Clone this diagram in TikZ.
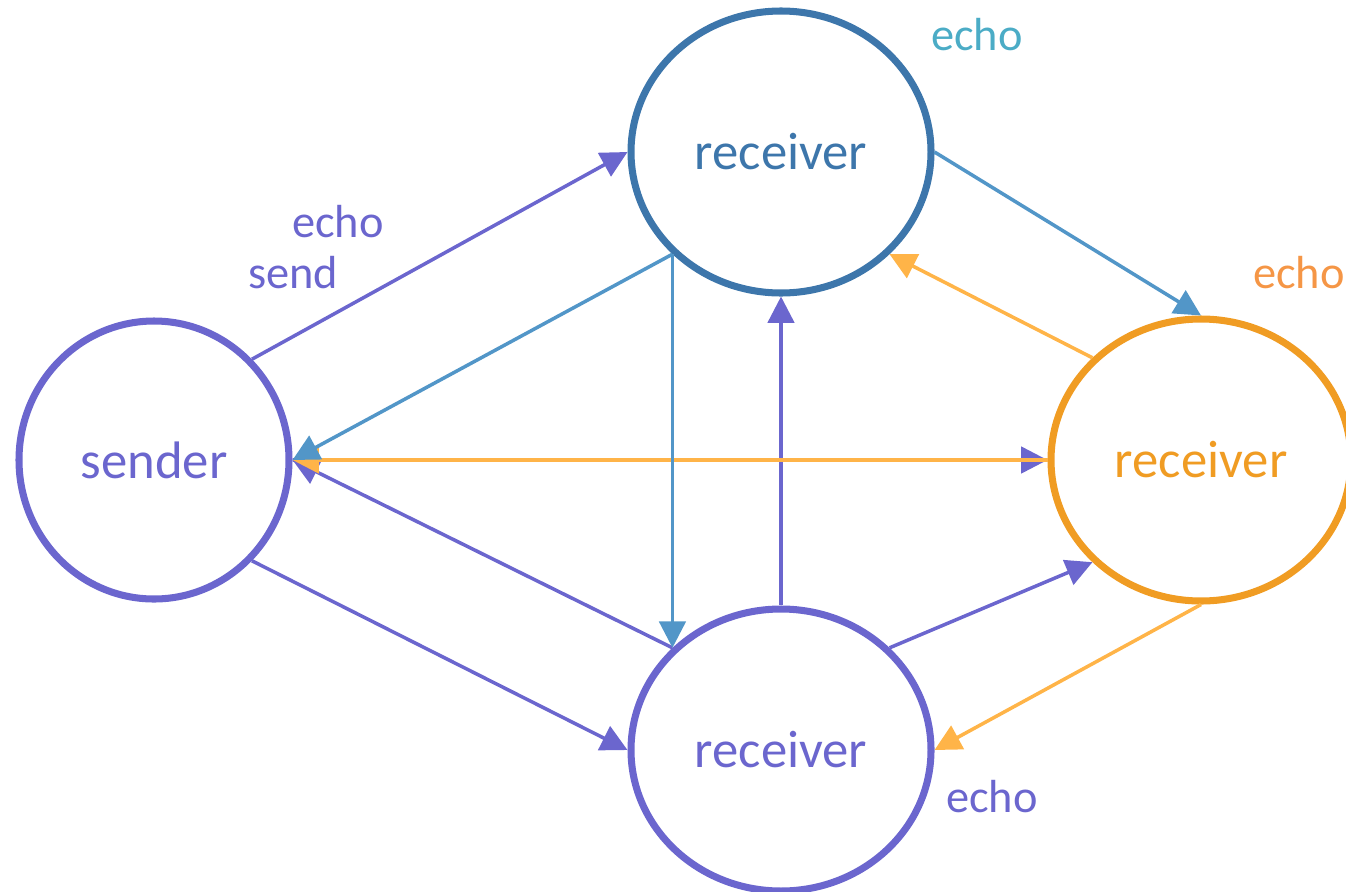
\documentclass[tikz,border=0pt]{standalone}
\usepackage{fontspec}
\setmainfont{Carlito}
\usetikzlibrary{arrows.meta,shapes.geometric}

\definecolor{morado}{RGB}{107,102,206}
\definecolor{azul}{RGB}{61,118,171}
\definecolor{azulclaro}{RGB}{82,150,200}
\definecolor{turquesa}{RGB}{75,172,198}
\definecolor{naranja}{RGB}{240,156,35}
\definecolor{naranjaclaro}{RGB}{255,180,72}
\definecolor{naranjatexto}{RGB}{245,150,70}

\begin{document}
\begin{tikzpicture}[>={Triangle[length=7.5pt,width=7.5pt]},
    proceso/.style={ellipse,draw=#1,text=#1,fill=white,line width=2pt,inner sep=0pt,
      minimum width=3.0cm,minimum height=2.82cm,font=\fontsize{15}{18}\selectfont},
    flecha/.style={->,line width=1pt},
    etiqueta/.style={font=\fontsize{13.2}{16}\selectfont}]
    \useasboundingbox (0,0) rectangle (13.46,8.91);

    % Procesos
    \node[proceso=morado,minimum width=2.70cm,minimum height=2.78cm] (sender) at (1.54,4.31) {sender};
    \node[proceso=azul] (recA) at (7.81,7.39) {receiver};
    \node[proceso=naranja] (recB) at (12.01,4.31) {receiver};
    \node[proceso=morado] (recC) at (7.81,1.41) {receiver};

    % Mensajes del emisor y de recC
    \draw[flecha,morado] (sender.north east) -- (recA.west);
    \draw[flecha,morado] (sender.east) -- (recB.west);
    \draw[flecha,morado] (sender.south east) -- (recC.west);
    \draw[flecha,morado] (recC.north west) -- (sender.east);
    \draw[flecha,morado] (recC.north) -- (recA.south);
    \draw[flecha,morado] (recC.north east) -- (recB.south west);

    % Ecos de recB
    \draw[flecha,naranjaclaro] (recB.west) -- (sender.east);
    \draw[flecha,naranjaclaro] (recB.north west) -- (recA.south east);
    \draw[flecha,naranjaclaro] (recB.south) -- (recC.east);

    % Ecos de recA
    \draw[flecha,azulclaro] (recA.south west) -- (sender.east);
    \draw[flecha,azulclaro] (recA.south west) -- (recC.north west);
    \draw[flecha,azulclaro] (recA.east) -- (recB.north);

    % Etiquetas
    \node[etiqueta,turquesa] (ecoA) at (9.77,8.56) {echo};
    \node[etiqueta,morado] (eco) at (3.38,6.69) {echo};
    \node[etiqueta,morado] (send) at (2.93,6.18) {send};
    \node[etiqueta,naranjatexto] (ecoB) at (12.99,6.18) {echo};
    \node[etiqueta,morado] (ecoC) at (9.92,0.94) {echo};

  \end{tikzpicture}
\end{document}
